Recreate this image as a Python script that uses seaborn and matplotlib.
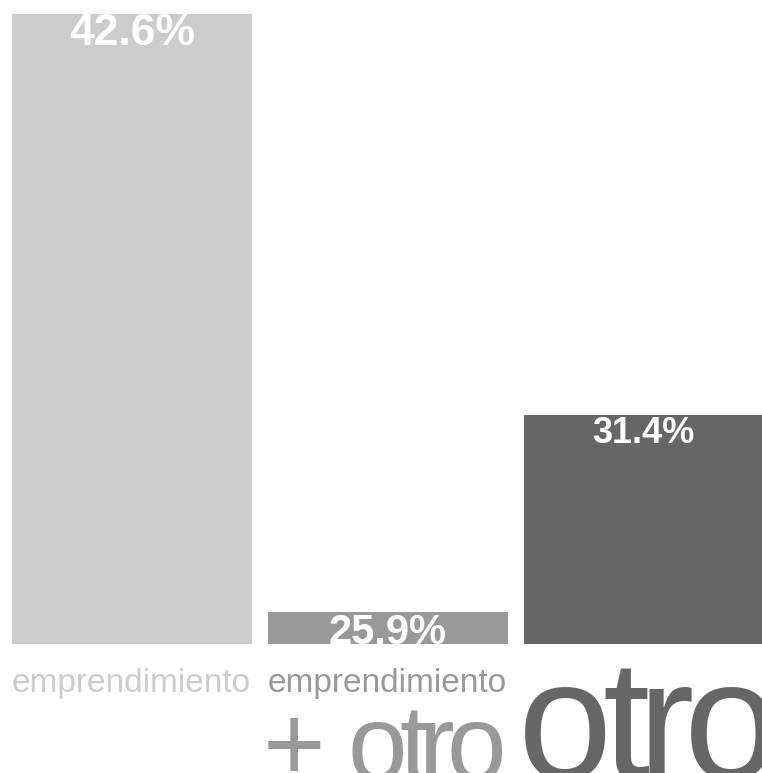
import matplotlib
matplotlib.use("Agg")
import matplotlib.pyplot as plt
from matplotlib.font_manager import FontProperties
from matplotlib.textpath import TextPath
import seaborn as sns
import pandas as pd

# Share of respondents by type of activity
categories = ["emprendimiento", "emprendimiento + otro", "otro"]
values = [42.6, 25.9, 31.4]
value_labels = ["42.6%", "25.9%", "31.4%"]
colors = ["#cccccc", "#999999", "#666666"]

W, H, DPI = 762, 773, 100
FONT = "Liberation Sans"

sns.set_theme(style="white")
plt.rcParams["font.family"] = [FONT, "DejaVu Sans"]

fig = plt.figure(figsize=(W / DPI, H / DPI), dpi=DPI)
fig.patch.set_facecolor("white")
ax = fig.add_axes([0, (H - 644) / H, 1, (644 - 14) / H])
ax.set_facecolor("white")

df = pd.DataFrame({"categoria": categories, "valor": values})
sns.barplot(data=df, x="categoria", y="valor", hue="categoria",
            palette=colors, width=0.938, legend=False, ax=ax,
            linewidth=0, saturation=1)

ax.set_ylim(25, 42.6)
ax.set_xlim(-0.516, 2.463)
ax.set_axis_off()

# value labels in white, just under the top of each bar, clipped to the axes
label_sizes = [32, 30, 26]
label_offsets = [-31, -32, -28]
for i, (v, txt) in enumerate(zip(values, value_labels)):
    t = ax.annotate(txt, xy=(i, v), xytext=(0, label_offsets[i] * 72 / DPI),
                    textcoords="offset points", ha="center", va="baseline",
                    color="white", fontsize=label_sizes[i], fontweight="bold",
                    family=FONT, annotation_clip=False)
    t.set_clip_on(True)

fp = FontProperties(family=FONT)
PX = DPI / 72.0


def ink(ch, size):
    """Ink box of one glyph in pixels, relative to its origin."""
    ext = TextPath((0, 0), ch, size=size, prop=fp).get_extents()
    return ext.x0 * PX, ext.x1 * PX, ext.y1 * PX


def tracked(x_px, text, size, color, gap_px, top_px=None, base_px=None):
    """Draw a word glyph by glyph, ink edge to ink edge with a fixed gap.
    The baseline comes either directly or from the top of an 'o'."""
    if base_px is None:
        base_px = top_px + ink("o", size)[2]
    x = x_px
    for ch in text:
        x0, x1, _ = ink(ch, size)
        fig.text((x - x0) / W, 1 - base_px / H, ch, fontsize=size,
                 color=color, family=FONT, ha="left", va="baseline")
        x += (x1 - x0) + gap_px
    return base_px


# category names below the bars
small = 24
first, rest = categories[1].split(" + ")
fig.text(12 / W, 1 - 692 / H, categories[0], fontsize=small, color=colors[0],
         family=FONT, ha="left", va="baseline")
fig.text(268 / W, 1 - 692 / H, first, fontsize=small, color=colors[1],
         family=FONT, ha="left", va="baseline")

mid = 77
base = tracked(352, rest, mid, colors[1], -2, top_px=722)
tracked(268, "+", mid, colors[1], 0, base_px=base)
tracked(525, categories[2], 122, colors[2], 0, top_px=687)

fig.savefig("out.png", dpi=DPI, facecolor="white")
